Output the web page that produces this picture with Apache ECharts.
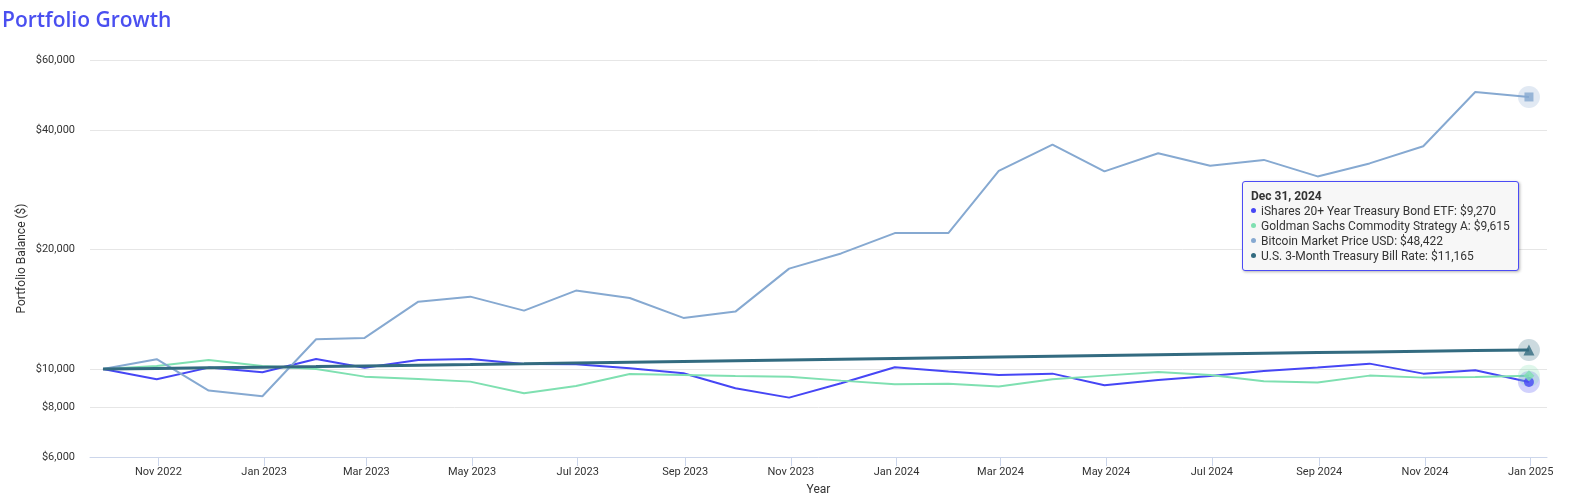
<!DOCTYPE html>
<html><head><meta charset="utf-8">
<script src="https://cdn.jsdelivr.net/npm/echarts@6/dist/echarts.min.js"></script>
<style>html,body{margin:0;padding:0;background:#fff}#c{width:1569px;height:495px}</style>
</head><body><div id="c"></div>
<script>
const dates = ['2022-09-30','2022-10-31','2022-11-30','2022-12-31','2023-01-31','2023-02-28','2023-03-31','2023-04-30','2023-05-31','2023-06-30','2023-07-31','2023-08-31','2023-09-30','2023-10-31','2023-11-30','2023-12-31','2024-01-31','2024-02-29','2024-03-31','2024-04-30','2024-05-31','2024-06-30','2024-07-31','2024-08-31','2024-09-30','2024-10-31','2024-11-30','2024-12-31'];
const ishares = [10000,9420,10076,9810,10597,10070,10536,10590,10294,10276,10041,9754,8941,8466,9204,10099,9845,9658,9731,9097,9382,9602,9885,10076,10312,9731,9925,9270];
const goldman = [10000,10176,10536,10176,10000,9563,9437,9290,8686,9062,9714,9658,9602,9563,9344,9151,9170,9025,9420,9619,9828,9658,9312,9237,9619,9508,9547,9615];
const bitcoin = [10000,10579,8818,8537,11881,11970,14772,15207,14025,15753,15093,13443,13943,17890,19540,21984,22009,31532,36728,31441,34941,32498,33610,30544,32934,36389,49852,48422];
const tbill = [10000,10032,10067,10102,10139,10177,10216,10257,10300,10344,10389,10434,10479,10525,10571,10617,10663,10709,10756,10803,10850,10897,10944,10992,11037,11079,11120,11165];
const seriesNames = ['iShares 20+ Year Treasury Bond ETF','Goldman Sachs Commodity Strategy A','Bitcoin Market Price USD','U.S. 3-Month Treasury Bill Rate'];
const yTicks = [6000,8000,10000,20000,40000,60000];
const xTicks = ['2022-11-01','2023-01-01','2023-03-01','2023-05-01','2023-07-01','2023-09-01','2023-11-01','2024-01-01','2024-03-01','2024-05-01','2024-07-01','2024-09-01','2024-11-01','2025-01-01'];

const colors = ['#4646f5','#7fe0b1','#86a9d1','#336b80'];
const widths = [2,2,2,3];
const markers = [['circle',10],['diamond',11],['rect',9],['triangle',11]];
const MONTHS = ['Jan','Feb','Mar','Apr','May','Jun','Jul','Aug','Sep','Oct','Nov','Dec'];
function ts(s){const p=s.split('-').map(Number);return Date.UTC(p[0],p[1]-1,p[2]);}
const times = dates.map(ts);
const allData = [ishares,goldman,bitcoin,tbill];
const FONT = 'Roboto';

const series = [];
allData.forEach((arr,i)=>{
  series.push({type:'line',name:seriesNames[i],data:arr.map((v,j)=>[times[j],v]),
    symbol:'none',color:colors[i],lineStyle:{width:widths[i],color:colors[i]},
    emphasis:{disabled:true},z:2+i});
});
allData.forEach((arr,i)=>{
  const last = arr.length-1;
  series.push({type:'scatter',name:seriesNames[i]+' halo',data:[[times[last],arr[last]]],
    symbol:'circle',symbolSize:22,itemStyle:{color:colors[i],opacity:0.25},emphasis:{disabled:true},z:10,silent:true});
});
allData.forEach((arr,i)=>{
  const last = arr.length-1;
  series.push({type:'scatter',name:seriesNames[i]+' marker',data:[[times[last],arr[last]]],
    symbol:markers[i][0],symbolSize:markers[i][1],itemStyle:{color:colors[i]},emphasis:{disabled:true},z:11,silent:true});
});

const chart = echarts.init(document.getElementById('c'),null,{renderer:'canvas'});
chart.setOption({
  animation:false,
  textStyle:{fontFamily:FONT},
  title:{text:'Portfolio Growth',left:2,top:11,padding:0,textStyle:{fontFamily:'Open Sans',fontSize:21,fontWeight:600,color:'#4a4ff0'}},
  grid:{left:90,right:22,top:60,bottom:38,outerBoundsMode:'none'},
  tooltip:{trigger:'axis',triggerOn:'none',alwaysShowContent:true,transitionDuration:0,
    axisPointer:{type:'none'},
    position:[1242,181],
    backgroundColor:'#f7f7f7',borderColor:'#4b4bf5',borderWidth:1,padding:[6,8,6,8],
    extraCssText:'box-shadow:1px 1px 3px rgba(0,0,0,0.3);border-radius:3px;',
    textStyle:{fontFamily:FONT,fontSize:12,color:'#333'},
    formatter:function(params){
      const ps = params.filter(p=>p.seriesType==='line');
      const d = new Date(ps[0].value[0]);
      let h = '<div style="font-weight:bold;line-height:16px">'+MONTHS[d.getUTCMonth()]+' '+d.getUTCDate()+', '+d.getUTCFullYear()+'</div>';
      ps.forEach(p=>{
        h += '<div style="line-height:15px"><span style="display:inline-block;width:5px;height:5px;border-radius:50%;background:'+p.color+';margin-right:5px;vertical-align:middle;position:relative;top:-1px"></span>'+p.seriesName+': $'+Math.round(p.value[1]).toLocaleString('en-US')+'</div>';
      });
      return h;
    }},
  xAxis:{type:'value',min:Date.UTC(2022,8,22,12),max:Date.UTC(2025,0,10,10),
    name:'Year',nameLocation:'middle',nameGap:27,nameTextStyle:{fontFamily:FONT,fontSize:12,color:'#333'},
    axisLine:{lineStyle:{color:'#ccd6eb',width:1}},
    axisTick:{show:true,length:9,lineStyle:{color:'#ccd6eb'},customValues:xTicks.map(ts)},
    axisLabel:{customValues:xTicks.map(ts),fontFamily:FONT,fontSize:11,color:'#333',margin:10,
      formatter:function(v){const d=new Date(v);return MONTHS[d.getUTCMonth()]+' '+d.getUTCFullYear();}},
    splitLine:{show:false}},
  yAxis:{type:'log',logBase:10,min:6000,max:60000,
    name:'Portfolio Balance ($)',nameLocation:'middle',nameGap:62,nameMoveOverlap:false,nameRotate:90,nameTextStyle:{fontFamily:FONT,fontSize:12,color:'#333'},
    axisLine:{show:false},
    axisTick:{show:false,customValues:yTicks},
    axisLabel:{customValues:yTicks,fontFamily:FONT,fontSize:11,color:'#333',margin:15,
      formatter:function(v){return '$'+Math.round(v).toLocaleString('en-US');}},
    splitLine:{show:true,lineStyle:{color:'#e6e6e6',width:1}}},
  series:series
});
chart.dispatchAction({type:'showTip',seriesIndex:0,dataIndex:27});
</script></body></html>
